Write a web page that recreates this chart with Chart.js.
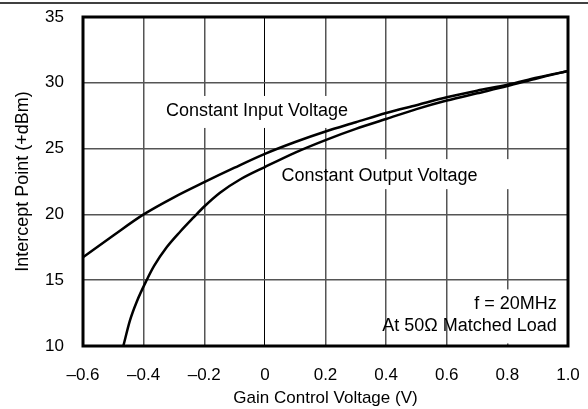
<!DOCTYPE html>
<html>
<head>
<meta charset="utf-8">
<script src="https://cdn.jsdelivr.net/npm/chart.js@4.4.0/dist/chart.umd.min.js"></script>
<style>
  html, body { margin: 0; padding: 0; background: #fff; }
  #wrap { width: 588px; height: 409px; }
</style>
</head>
<body>
<div id="wrap"><canvas id="interceptChart" width="588" height="409"></canvas></div>
<script>
// Constant Input Voltage curve
const inputVoltage = [-0.6, -0.5, -0.4, -0.3, -0.2, -0.1, 0, 0.1, 0.2, 0.3, 0.4, 0.5, 0.6, 0.7, 0.8, 0.9, 1.0];
const inputIntercept = [16.75, 18.4, 20.0, 21.3, 22.45, 23.55, 24.6, 25.5, 26.3, 27.0, 27.7, 28.3, 28.9, 29.4, 29.85, 30.4, 30.9];

// Constant Output Voltage curve
const outputVoltage = [-0.467, -0.445, -0.423, -0.39, -0.365, -0.324, -0.279, -0.236, -0.2, -0.148, -0.082, 0, 0.1, 0.2, 0.3, 0.4, 0.5, 0.6, 0.7, 0.8, 0.9, 1.0];
const outputIntercept = [10.0, 11.95, 13.35, 15.0, 16.1, 17.5, 18.7, 19.75, 20.6, 21.65, 22.65, 23.6, 24.7, 25.65, 26.5, 27.25, 28.0, 28.65, 29.2, 29.75, 30.35, 30.9];

const xTicks = [-0.6, -0.4, -0.2, 0, 0.2, 0.4, 0.6, 0.8, 1.0];
const yTicks = [10, 15, 20, 25, 30, 35];

const FONT = "'Liberation Sans', Arial, Helvetica, sans-serif";

const toPoints = (xs, ys) => xs.map((x, i) => ({ x: x, y: ys[i] }));

const fmtX = (v) => {
  if (Math.abs(v) < 1e-9) return "0";
  const s = Math.abs(v).toFixed(1);
  return v < 0 ? "\u2013" + s : s;
};

// labels on the plot, white patch behind them cuts the grid lines
const annotations = {
  id: "annotations",
  beforeDatasetsDraw(chart) {
    const { ctx, scales } = chart;
    const x = scales.x, y = scales.y;
    ctx.save();
    ctx.fillStyle = "#fff";
    ctx.fillRect(x.getPixelForValue(-0.345), y.getPixelForValue(29.0), 200, 32);
    ctx.fillRect(x.getPixelForValue(0.24), y.getPixelForValue(24.2), 210, 30);
    ctx.fillRect(x.getPixelForValue(0.68), y.getPixelForValue(14.3), 190, 54);
    ctx.font = "18px " + FONT;
    ctx.fillStyle = "#000";
    ctx.textBaseline = "middle";
    ctx.textAlign = "center";
    ctx.fillText("Constant Input Voltage", x.getPixelForValue(-0.026), y.getPixelForValue(27.86));
    ctx.fillText("Constant Output Voltage", x.getPixelForValue(0.378), y.getPixelForValue(22.9));
    ctx.textAlign = "right";
    ctx.fillText("f = 20MHz", x.getPixelForValue(0.963), y.getPixelForValue(13.2));
    ctx.fillText("At 50\u03A9 Matched Load", x.getPixelForValue(0.963), y.getPixelForValue(11.5));
    ctx.restore();
  },
  afterDatasetsDraw(chart) {
    const { ctx, chartArea } = chart;
    ctx.save();
    ctx.strokeStyle = "#000";
    ctx.lineWidth = 3;
    ctx.strokeRect(chartArea.left, chartArea.top, chartArea.right - chartArea.left, chartArea.bottom - chartArea.top);
    // rule along the top of the figure
    ctx.lineWidth = 1.5;
    ctx.beginPath();
    ctx.moveTo(0, 3);
    ctx.lineTo(chart.width, 3);
    ctx.stroke();
    ctx.restore();
  },
};

const interceptChart = new Chart(document.getElementById("interceptChart"), {
  type: "line",
  data: {
    datasets: [
      {
        label: "Constant Input Voltage",
        data: toPoints(inputVoltage, inputIntercept),
        borderColor: "#000",
        borderWidth: 2.5,
        pointRadius: 0,
        cubicInterpolationMode: "monotone",
        fill: false,
      },
      {
        label: "Constant Output Voltage",
        data: toPoints(outputVoltage, outputIntercept),
        borderColor: "#000",
        borderWidth: 2.5,
        pointRadius: 0,
        cubicInterpolationMode: "monotone",
        fill: false,
      },
    ],
  },
  options: {
    responsive: false,
    animation: false,
    layout: {
      autoPadding: false,
      padding: { left: 0, top: 17, right: 20, bottom: 0 },
    },
    plugins: {
      legend: { display: false },
      tooltip: { enabled: false },
    },
    scales: {
      x: {
        type: "linear",
        min: -0.6,
        max: 1.0,
        afterBuildTicks: (s) => { s.ticks = xTicks.map((v) => ({ value: v })); },
        afterFit: (s) => {
          s.height = 63;
          s.paddingLeft = 0;
          s.paddingRight = 0;
        },
        ticks: {
          color: "#000",
          padding: 19,
          maxRotation: 0,
          font: { family: FONT, size: 17 },
          callback: (v) => fmtX(v),
        },
        grid: {
          drawTicks: false,
          color: (c) => (c.tick && Math.abs(c.tick.value) < 1e-9 ? "#000" : "#555"),
          lineWidth: (c) => (c.tick && Math.abs(c.tick.value) < 1e-9 ? 1 : 1.5),
        },
        border: { display: false },
        title: {
          display: true,
          text: "Gain Control Voltage (V)",
          color: "#000",
          font: { family: FONT, size: 17 },
          padding: { top: 4, bottom: 0 },
        },
      },
      y: {
        type: "linear",
        min: 10,
        max: 35,
        afterBuildTicks: (s) => { s.ticks = yTicks.map((v) => ({ value: v })); },
        afterFit: (s) => {
          s.width = 83;
          s.paddingTop = 0;
          s.paddingBottom = 0;
        },
        ticks: {
          color: "#000",
          padding: 19,
          font: { family: FONT, size: 17 },
        },
        grid: {
          drawTicks: false,
          color: "#555",
          lineWidth: 1.5,
        },
        border: { display: false },
        title: {
          display: true,
          text: "Intercept Point (+dBm)",
          color: "#000",
          font: { family: FONT, size: 18 },
          padding: { top: 12, bottom: 0 },
        },
      },
    },
  },
  plugins: [annotations],
});
</script>
</body>
</html>
